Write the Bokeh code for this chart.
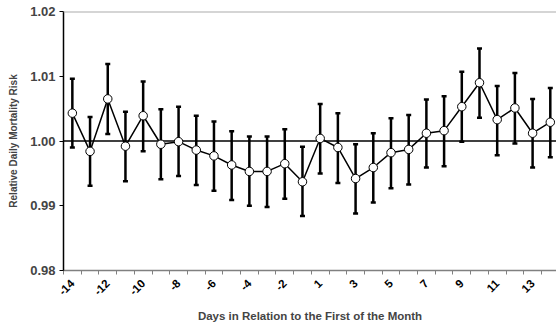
from bokeh.plotting import figure
from bokeh.models import Range1d, FixedTicker, Span, ColumnDataSource
from bokeh.embed import file_html
from bokeh.resources import INLINE

# Data
days = [-14, -13, -12, -11, -10, -9, -8, -7, -6, -5, -4, -3, -2, -1,
        1, 2, 3, 4, 5, 6, 7, 8, 9, 10, 11, 12, 13, 14]
risk = [1.0043, 0.9984, 1.0065, 0.9992, 1.0039, 0.9995, 0.9999, 0.9986, 0.9977, 0.9963,
        0.9953, 0.9953, 0.9965, 0.9937, 1.0004, 0.9990, 0.9942, 0.9959, 0.9982, 0.9987,
        1.0012, 1.0016, 1.0053, 1.0090, 1.0033, 1.0051, 1.0012, 1.0029]
upper = [1.0096, 1.0037, 1.0119, 1.0045, 1.0092, 1.0049, 1.0053, 1.0039, 1.0030, 1.0015,
         1.0007, 1.0007, 1.0018, 0.9991, 1.0057, 1.0043, 0.9995, 1.0012, 1.0035, 1.0040,
         1.0064, 1.0069, 1.0107, 1.0143, 1.0085, 1.0105, 1.0065, 1.0082]
lower = [0.9990, 0.9931, 1.0011, 0.9938, 0.9984, 0.9941, 0.9946, 0.9932, 0.9923, 0.9909,
         0.9900, 0.9898, 0.9911, 0.9884, 0.9950, 0.9935, 0.9888, 0.9905, 0.9927, 0.9933,
         0.9959, 0.9961, 0.9999, 1.0036, 0.9978, 0.9996, 0.9959, 0.9975]
y_ticks = [0.98, 0.99, 1.00, 1.01, 1.02]
y_labels = ["0.98", "0.99", "1.00", "1.01", "1.02"]

idx = list(range(len(days)))
src = ColumnDataSource(dict(x=idx, y=risk, lo=lower, hi=upper))

FONT = "Liberation Sans"

p = figure(width=556, height=325, output_backend="svg", toolbar_location=None,
           x_range=Range1d(-0.5, 27.35), y_range=Range1d(0.98, 1.02),
           min_border_left=63, min_border_top=11, min_border_right=0, min_border_bottom=55)
p.outline_line_color = None
p.xgrid.visible = False
p.ygrid.visible = False
p.background_fill_color = "white"
p.border_fill_color = "white"

# reference line at 1.00 and top border
p.add_layout(Span(location=1.0, dimension="width", line_color="black", line_width=1.5, level="underlay"))
p.add_layout(Span(location=1.02, dimension="width", line_color="#ababab", line_width=2))

# error bars
p.segment(x0="x", y0="lo", x1="x", y1="hi", source=src, line_color="black", line_width=2.5)
p.scatter(x="x", y="lo", source=src, marker="dash", size=5, line_color="black", line_width=2.5)
p.scatter(x="x", y="hi", source=src, marker="dash", size=5, line_color="black", line_width=2.5)
# line & markers
p.line(x="x", y="y", source=src, line_color="black", line_width=1.5)
p.scatter(x="x", y="y", source=src, marker="circle", size=8.5, fill_color="white",
          line_color="black", line_width=1)

# x axis
major = [i for i in idx if i % 2 == 0]
p.xaxis.ticker = FixedTicker(ticks=major, minor_ticks=[i - 0.5 for i in range(len(days) + 1)])
p.xaxis.major_label_overrides = {i: str(days[i]) for i in major}
p.xaxis.major_label_orientation = 0.785
p.xaxis.major_tick_out = 0
p.xaxis.major_tick_in = 0
p.xaxis.minor_tick_out = 4
p.xaxis.minor_tick_in = 0
p.xaxis.minor_tick_line_color = "#808080"
p.xaxis.axis_line_color = "#808080"
p.xaxis.axis_line_width = 1.5
p.xaxis.major_label_text_font = FONT
p.xaxis.major_label_text_font_style = "bold"
p.xaxis.major_label_text_font_size = "11.5px"
p.xaxis.major_label_text_color = "black"
p.xaxis.major_label_standoff = 7
p.xaxis.axis_label = "Days in Relation to the First of the Month"
p.xaxis.axis_label_text_font = FONT
p.xaxis.axis_label_text_font_style = "bold"
p.xaxis.axis_label_text_font_size = "11.5px"
p.xaxis.axis_label_standoff = 8

# y axis
p.yaxis.ticker = FixedTicker(ticks=y_ticks)
p.yaxis.major_label_overrides = {t: l for t, l in zip(y_ticks, y_labels)}
p.yaxis.minor_tick_line_color = None
p.yaxis.major_tick_out = 4
p.yaxis.major_tick_in = 0
p.yaxis.axis_line_color = "black"
p.yaxis.axis_line_width = 1.5
p.yaxis.major_label_text_font = FONT
p.yaxis.major_label_text_font_style = "bold"
p.yaxis.major_label_text_font_size = "13px"
p.yaxis.major_label_standoff = 4
p.yaxis.axis_label = "Relative Daily Mortality Risk"
p.yaxis.axis_label_text_font = FONT
p.yaxis.axis_label_text_font_style = "bold"
p.yaxis.axis_label_text_font_size = "10px"
p.yaxis.axis_label_standoff = 8

open("out.html", "w").write(file_html(p, INLINE))
